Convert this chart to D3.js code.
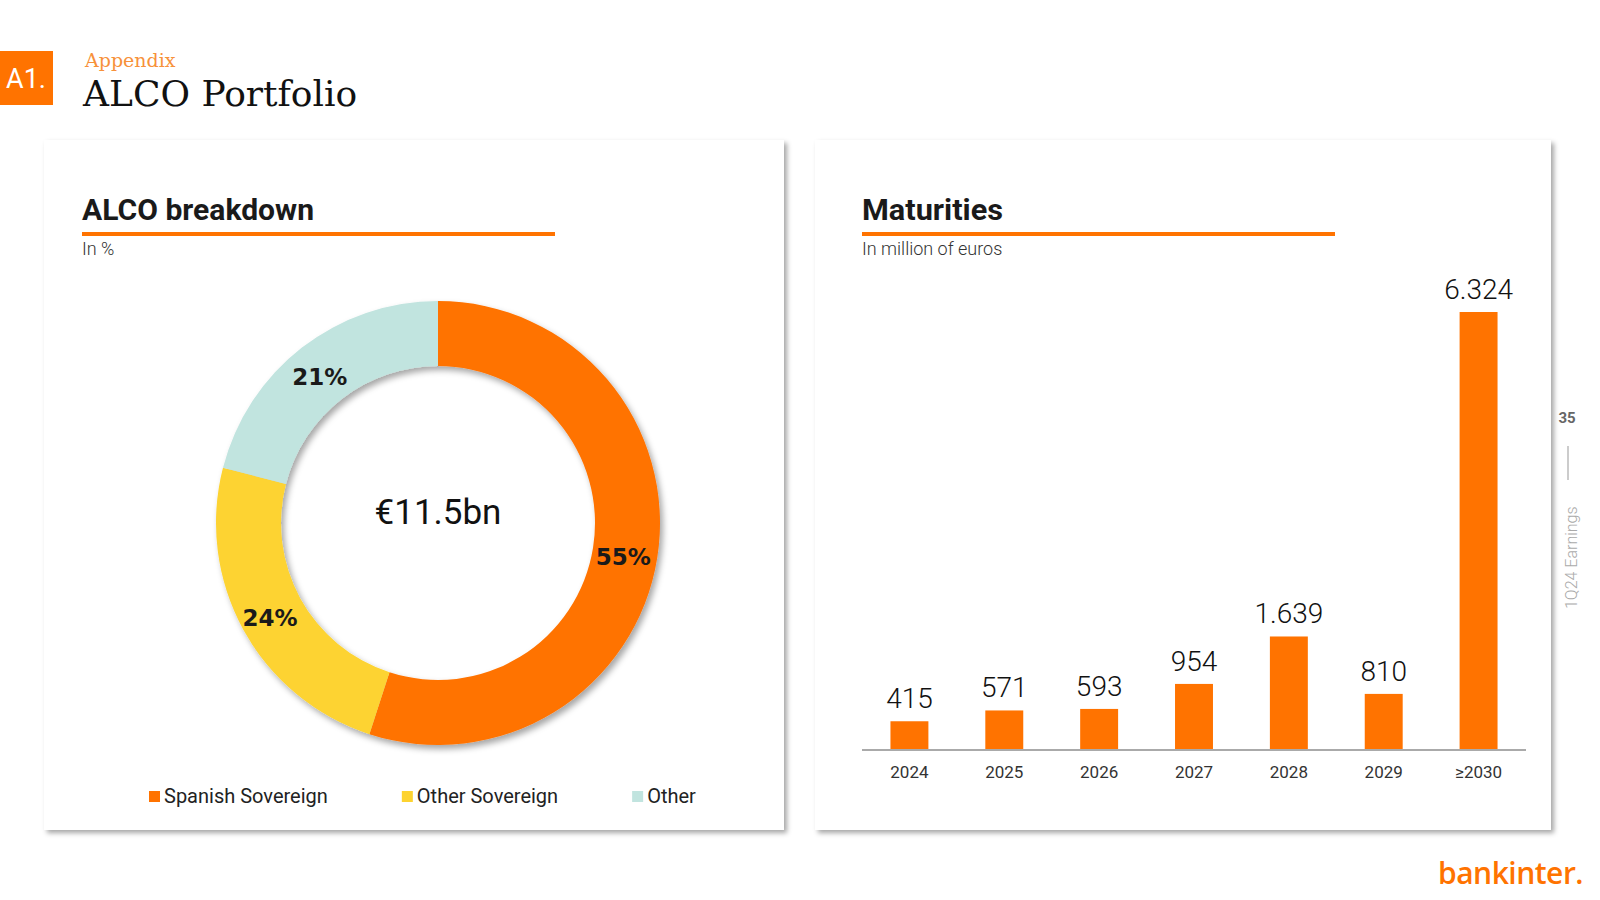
<!DOCTYPE html>
<html><head><meta charset="utf-8">
<script src="https://cdn.jsdelivr.net/npm/d3@7"></script>
<style>
html,body{margin:0;padding:0;background:#fff;}
svg{display:block;}
</style></head>
<body>
<svg id="c" width="1600" height="900"></svg>
<script>
// ---- data ----
const breakdownCategories = ["Spanish Sovereign", "Other Sovereign", "Other"];
const breakdownValues = [55, 24, 21];
const breakdownTotal = "€11.5bn";
const maturityYears = ["2024", "2025", "2026", "2027", "2028", "2029", "≥2030"];
const maturityValues = [415, 571, 593, 954, 1639, 810, 6324];

const ORANGE = "#FF7300", YELLOW = "#FDD330", TEAL = "#C1E4DF";
const sliceColors = [ORANGE, YELLOW, TEAL];

const svg = d3.select("#c");
const defs = svg.append("defs");
const f1 = defs.append("filter").attr("id","cardShadow").attr("x","-5%").attr("y","-5%").attr("width","115%").attr("height","115%");
f1.append("feDropShadow").attr("dx",3).attr("dy",3).attr("stdDeviation",2.5).attr("flood-color","#000").attr("flood-opacity",0.35);
const f2 = defs.append("filter").attr("id","ringShadow").attr("x","-20%").attr("y","-20%").attr("width","140%").attr("height","140%");
f2.append("feDropShadow").attr("dx",3).attr("dy",4).attr("stdDeviation",3).attr("flood-color","#000").attr("flood-opacity",0.35);

// ---- header ----
svg.append("rect").attr("x",0).attr("y",51).attr("width",53).attr("height",54).attr("fill",ORANGE);
svg.append("text").attr("x",26).attr("y",88).attr("text-anchor","middle").attr("fill","#fff")
  .attr("font-family","Roboto, sans-serif").attr("font-size",27).text("A1.");
svg.append("text").attr("x",85).attr("y",67).attr("fill","#F7913A")
  .attr("font-family","DejaVu Serif, serif").attr("font-size",19).text("Appendix");
svg.append("text").attr("x",83).attr("y",106).attr("fill","#111")
  .attr("font-family","DejaVu Serif, serif").attr("font-size",36).text("ALCO Portfolio");

// ---- cards ----
const cards = [{x:44,y:140,w:740,h:690},{x:815,y:140,w:736,h:690}];
svg.selectAll("rect.card").data(cards).join("rect").attr("class","card")
  .attr("x",d=>d.x).attr("y",d=>d.y).attr("width",d=>d.w).attr("height",d=>d.h)
  .attr("fill","#fff").attr("filter","url(#cardShadow)");

function panelTitle(x, title, tw, sub, lineEnd){
  svg.append("text").attr("x",x).attr("y",220).attr("fill","#1a1a1a")
    .attr("font-family","Roboto, sans-serif").attr("font-weight",700).attr("font-size",30)
    .attr("textLength",tw).attr("lengthAdjust","spacingAndGlyphs").text(title);
  svg.append("rect").attr("x",x).attr("y",232).attr("width",lineEnd-x).attr("height",4).attr("fill",ORANGE);
  svg.append("text").attr("x",x).attr("y",255).attr("fill","#333")
    .attr("font-family","Roboto, sans-serif").attr("font-weight",300).attr("font-size",18).text(sub);
}
panelTitle(82, "ALCO breakdown", 232, "In %", 555);
panelTitle(862, "Maturities", 141, "In million of euros", 1335);

// ---- donut ----
const cx = 438, cy = 523, rOut = 222, rIn = 157;
const pie = d3.pie().sort(null).value(d=>d)(breakdownValues);
const arc = d3.arc().innerRadius(rIn).outerRadius(rOut);
const labelArc = d3.arc().innerRadius(rIn+2).outerRadius(rOut-2);
const dg = svg.append("g").attr("transform",`translate(${cx},${cy})`);
dg.append("g").attr("filter","url(#ringShadow)")
  .selectAll("path").data(pie).join("path").attr("d",arc).attr("fill",(d,i)=>sliceColors[i]);
dg.selectAll("text.pct").data(pie).join("text").attr("class","pct")
  .attr("transform",d=>{const c=labelArc.centroid(d); return `translate(${c[0]-2},${c[1]+4})`;})
  .attr("text-anchor","middle").attr("dy","0.35em")
  .attr("font-family","DejaVu Sans, sans-serif").attr("font-weight",700).attr("font-size",23).attr("fill","#1a1a1a")
  .text(d=>d.data+"%");
dg.append("text").attr("text-anchor","middle").attr("y",1)
  .attr("font-family","Roboto, sans-serif").attr("font-size",35).attr("fill","#111").text(breakdownTotal);

// ---- legend ----
const lg = svg.append("g");
let lx = 149;
breakdownCategories.forEach((c,i)=>{
  lg.append("rect").attr("x",lx).attr("y",791).attr("width",11).attr("height",11).attr("fill",sliceColors[i]);
  const t = lg.append("text").attr("x",lx+15).attr("y",803).attr("fill","#222")
    .attr("font-family","Roboto, sans-serif").attr("font-size",20).text(c);
  lx += 15 + t.node().getComputedTextLength() + 74;
});

// ---- bars ----
const x = d3.scaleBand().domain(maturityYears).range([862,1526]).paddingInner(0.6).paddingOuter(0.3);
const y = d3.scaleLinear().domain([0, d3.max(maturityValues)]).range([750,312]);
const euro = d3.formatLocale({decimal:",", thousands:".", grouping:[3], currency:["","€"]}).format(",d");
svg.append("g").selectAll("rect").data(maturityValues).join("rect")
  .attr("x",(d,i)=>x(maturityYears[i])).attr("y",d=>y(d))
  .attr("width",x.bandwidth()).attr("height",d=>y(0)-y(d)).attr("fill",ORANGE);
svg.append("g").selectAll("text").data(maturityValues).join("text")
  .attr("x",(d,i)=>x(maturityYears[i])+x.bandwidth()/2).attr("y",d=>y(d)-13)
  .attr("text-anchor","middle").attr("font-family","Roboto, sans-serif").attr("font-weight",300)
  .attr("font-size",28).attr("fill","#111").text(d=>euro(d));
const xa = svg.append("g").attr("transform","translate(0,750)")
  .call(d3.axisBottom(x).tickSize(0).tickPadding(16));
xa.select(".domain").attr("stroke","#aaa").attr("stroke-width",2).attr("d","M862,0H1526");
xa.selectAll("text").attr("font-family","Roboto, sans-serif").attr("font-size",17).attr("fill","#333");

// ---- side & logo ----
svg.append("text").attr("x",1567).attr("y",423).attr("text-anchor","middle").attr("fill","#666")
  .attr("font-family","Roboto, sans-serif").attr("font-weight",700).attr("font-size",15).text("35");
svg.append("line").attr("x1",1568).attr("x2",1568).attr("y1",446).attr("y2",480).attr("stroke","#aaa").attr("stroke-width",1.2);
svg.append("text").attr("transform","translate(1577,609) rotate(-90)").attr("fill","#aaa")
  .attr("font-family","Roboto, sans-serif").attr("font-weight",300).attr("font-size",16).text("1Q24 Earnings");
svg.append("text").attr("x",1438).attr("y",884).attr("fill",ORANGE)
  .attr("font-family","Open Sans, sans-serif").attr("font-weight",600).attr("font-size",30).attr("letter-spacing",-0.5).text("bankinter.");
</script>
</body></html>
